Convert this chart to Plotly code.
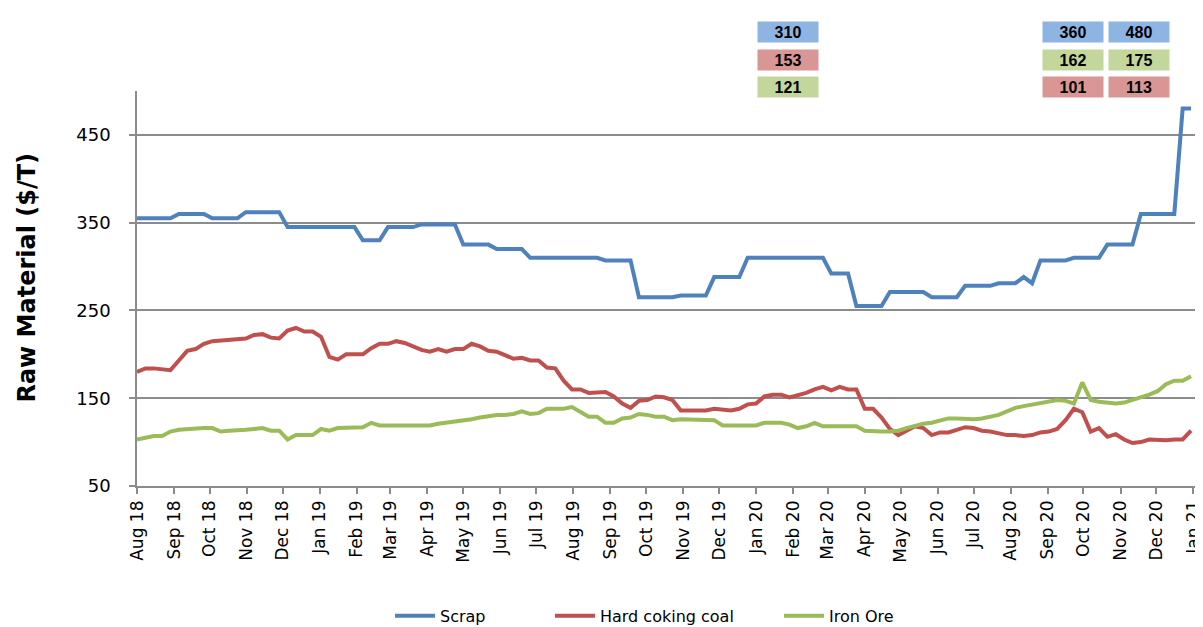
"""Raw material prices (Scrap, Hard coking coal, Iron Ore), weekly, Aug 2018 - Jan 2021."""

import pandas as pd
import plotly.graph_objects as go

# Weekly observations starting 1 Aug 2018
START = "2018-08-01"
N_WEEKS = 127

scrap = [355, 355, 355, 355, 355, 360, 360, 360, 360, 355, 355, 355, 355,
         362, 362, 362, 362, 362, 345, 345, 345, 345, 345, 345, 345, 345, 345,
         330, 330, 330, 345, 345, 345, 345, 348, 348, 348, 348, 348,
         325, 325, 325, 325, 320, 320, 320, 320,
         310, 310, 310, 310, 310, 310, 310, 310, 310, 307, 307, 307, 307,
         265, 265, 265, 265, 265, 267, 267, 267, 267, 288, 288, 288, 288,
         310, 310, 310, 310, 310, 310, 310, 310, 310, 310, 292, 292, 292,
         255, 255, 255, 255, 271, 271, 271, 271, 271, 265, 265, 265, 265,
         278, 278, 278, 278, 281, 281, 281, 288, 281, 307, 307, 307, 307,
         310, 310, 310, 310, 325, 325, 325, 325, 360, 360, 360, 360, 360,
         480, 480]

coking_coal = [180, 184, 184, 183, 182, 193, 204, 206, 212, 215,
               216, 217, 218, 218, 222, 223, 219, 218, 227, 230,
               226, 226, 220, 197, 194, 200, 200, 200, 207, 212,
               212, 215, 213, 209, 205, 203, 206, 203, 206, 206,
               212, 209, 204, 203, 199, 195, 196, 193, 193, 185,
               184, 170, 160, 160, 156, 156, 157, 152, 144, 139,
               147, 148, 152, 151, 148, 136, 136, 135, 136, 138,
               137, 136, 138, 143, 144, 152, 154, 154, 151, 153,
               156, 160, 163, 159, 163, 160, 160, 138, 138, 128,
               115, 108, 113, 118, 116, 108, 111, 111, 114, 117,
               116, 113, 112, 110, 108, 108, 107, 108, 111, 112,
               115, 125, 138, 134, 112, 116, 106, 109, 103, 99,
               100, 103, 102, 102, 103, 103, 113]

iron_ore = [103, 105, 107, 107, 112, 114, 115, 115, 116, 116,
            112, 113, 113, 114, 115, 116, 113, 113, 103, 108,
            108, 108, 115, 113, 116, 116, 117, 117, 122, 119,
            119, 119, 118, 118, 118, 119, 121, 122, 124, 125,
            126, 128, 130, 131, 131, 132, 135, 132, 133, 138,
            138, 138, 140, 134, 129, 129, 122, 122, 127, 128,
            132, 131, 129, 129, 125, 126, 126, 126, 126, 125,
            119, 119, 120, 119, 119, 122, 122, 122, 120, 116,
            118, 122, 118, 118, 118, 118, 118, 113, 112, 112,
            112, 113, 116, 119, 121, 122, 124, 127, 127, 126,
            126, 127, 129, 131, 135, 139, 141, 143, 145, 147,
            148, 147, 144, 168, 148, 146, 145, 144, 145, 148,
            150, 154, 158, 166, 170, 170, 175]

# Value boxes above the chart (top -> bottom)
box_jan20 = [("310", "scrap"), ("153", "coal"), ("121", "ore")]
box_dec20 = [("360", "scrap"), ("162", "ore"), ("101", "coal")]
box_jan21 = [("480", "scrap"), ("175", "ore"), ("113", "coal")]

dates = pd.date_range(START, periods=N_WEEKS, freq="7D")

BLUE = "#4F81BD"
RED = "#C0504D"
GREEN = "#9BBB59"
BOX_FILL = {"scrap": "#8EB4E3", "coal": "#D99694", "ore": "#C3D69B"}
GRID = "#8C8C8C"
FONT = "DejaVu Sans"

fig = go.Figure()
series = [("Scrap", scrap, BLUE, "legend", 0.2387),
          ("Hard coking coal", coking_coal, RED, "legend2", 0.3896),
          ("Iron Ore", iron_ore, GREEN, "legend3", 0.6057)]
legend_cfg = {}
for name, vals, color, leg, lx in series:
    fig.add_trace(go.Scatter(
        x=dates, y=vals, mode="lines", name=name,
        line=dict(color=color, width=4), legend=leg,
    ))
    legend_cfg[leg] = dict(
        orientation="h", x=lx, y=-0.329, xanchor="left", yanchor="middle",
        font=dict(family=FONT, size=16, color="black"),
        itemwidth=40, bgcolor="rgba(0,0,0,0)",
    )

# Value boxes
box_cols = [(0.614, box_jan20), (0.9125, box_dec20), (0.9745, box_jan21)]
box_rows = [1.178, 1.107, 1.038]
for bx, items in box_cols:
    for by, (txt, key) in zip(box_rows, items):
        fig.add_annotation(
            x=bx, y=by, xref="paper", yref="paper",
            text=f"<b>{txt}</b>", showarrow=False,
            font=dict(family="Liberation Sans, Arial", size=16, color="black"),
            bgcolor=BOX_FILL[key], width=58, height=18, borderpad=1,
        )

# Y axis title
fig.add_annotation(
    x=-0.104, y=0.527, xref="paper", yref="paper",
    xanchor="center", yanchor="middle",
    text="<b>Raw Material ($/T)</b>", textangle=-90, showarrow=False,
    font=dict(family=FONT, size=24, color="black"),
)

# page body has an 8px margin, so the figure is 8px smaller and margins shifted
fig.update_layout(
    width=1195, height=619,
    margin=dict(l=129, r=6, t=83, b=141, autoexpand=False),
    plot_bgcolor="white", paper_bgcolor="white",
    font=dict(family=FONT, size=17, color="black"),
    showlegend=True,
    **legend_cfg,
)

fig.update_yaxes(
    range=[50, 500], tickvals=[50, 150, 250, 350, 450],
    showgrid=True, gridcolor=GRID, gridwidth=1.5,
    showline=True, linecolor=GRID, linewidth=1.5,
    ticks="outside", ticklen=6, tickcolor=GRID, tickwidth=1.5,
    ticklabelstandoff=15,
    zeroline=False, tickfont=dict(size=18), automargin=False,
)

fig.update_xaxes(
    range=["2018-08-01", "2021-01-04"],
    tick0="2018-08-01", dtick="M1", tickformat="%b %y", tickangle=-90,
    showgrid=False, showline=True, linecolor=GRID, linewidth=1.5,
    ticks="outside", ticklen=6, tickcolor=GRID, tickwidth=1.5,
    tickfont=dict(size=17), automargin=False,
)

fig.write_html("out.html")
